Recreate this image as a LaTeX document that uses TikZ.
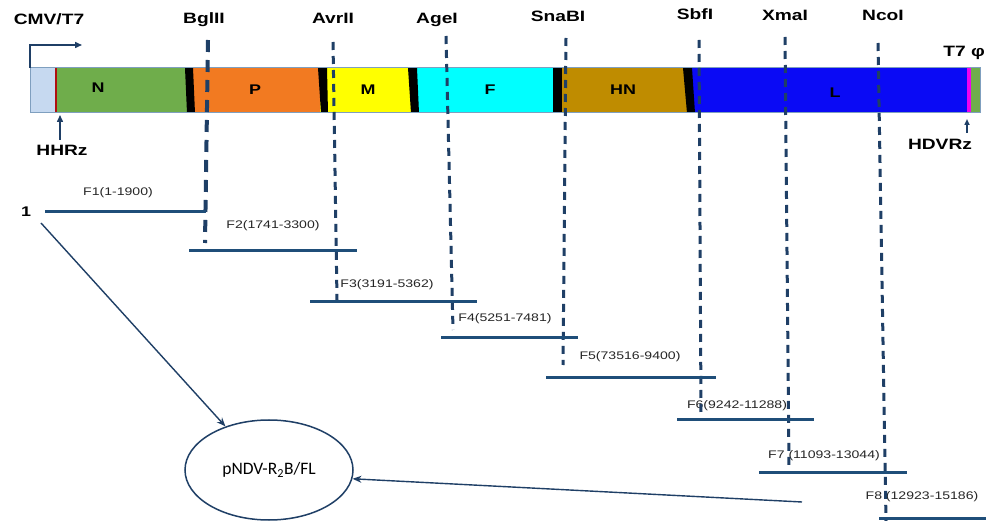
\documentclass[tikz,border=0pt]{standalone}
\usepackage{fontspec}
\setmainfont{Liberation Sans}
\newfontfamily\calibfont{Carlito}
\usetikzlibrary{arrows.meta,shapes.geometric}
\definecolor{navy}{HTML}{1F3F66}
\definecolor{lineblue}{HTML}{1F4E79}
\definecolor{lightbl}{HTML}{C6D9F0}
\definecolor{ngreen}{HTML}{6FAD4B}
\definecolor{porange}{HTML}{F27A21}
\definecolor{myellow}{HTML}{FFFF00}
\definecolor{fcyan}{HTML}{00FFFF}
\definecolor{hngold}{HTML}{BF8C00}
\definecolor{lblue}{HTML}{0A0AF5}
\definecolor{hdvmag}{HTML}{F000F0}
\definecolor{endgreen}{HTML}{6FAD4B}
\definecolor{rzred}{HTML}{B01010}
\definecolor{outline}{HTML}{7F9FBF}
\newcommand\stretchtxt[1]{\scalebox{1.28}[1]{#1}}
\begin{document}
\begin{tikzpicture}[x=1pt,y=-1pt,
  toplab/.style={inner sep=0pt, font=\bfseries\fontsize{15}{18}\selectfont},
  genelab/.style={inner sep=0pt, font=\bfseries\fontsize{14}{16}\selectfont},
  fraglab/.style={inner sep=0pt, font=\fontsize{11}{13}\selectfont, text=black!85},
  cutline/.style={navy, line width=3pt, dash pattern=on 8pt off 6pt},
  cutthick/.style={navy, line width=4pt, dash pattern=on 12pt off 8pt},
  fragline/.style={lineblue, line width=3pt},
  thinarrow/.style={navy, line width=1.4pt, -{Stealth[length=9pt,width=7pt]}},
  smallarrow/.style={navy, line width=1.5pt, -{Triangle[length=7pt,width=6pt]}},
  sep/.style={fill=black}]
\useasboundingbox (0,0) rectangle (986,521);
\fill[white] (0,0) rectangle (986,521);

% ---- genome bar ----
\fill[lightbl] (30,68) rectangle (56,113);
\fill[ngreen] (56,68) rectangle (188,113);
\fill[porange] (188,68) rectangle (320,113);
\fill[myellow] (320,68) rectangle (412,113);
\fill[fcyan] (412,68) rectangle (556,113);
\fill[hngold] (556,68) rectangle (688,113);
\fill[lblue] (688,68) rectangle (967,113);
\fill[hdvmag] (967,68) rectangle (971,113);
\fill[endgreen] (971,68) rectangle (980,113);
\fill[rzred] (54.5,68) rectangle (57,113);
\fill[sep] (185,68) -- (193,68) -- (195,113) -- (187,113) -- cycle;
\fill[sep] (318,68) -- (327,68) -- (328,113) -- (321,113) -- cycle;
\fill[sep] (408,68) -- (417,68) -- (419,113) -- (411,113) -- cycle;
\fill[sep] (553,68) -- (562,68) -- (562,113) -- (553,113) -- cycle;
\fill[sep] (683,68) -- (692,68) -- (695,113) -- (687,113) -- cycle;
\draw[outline, line width=1pt] (30,68) rectangle (980,113);

% gene letters
\node[genelab] (gN) at (98,88) {\stretchtxt{N}};
\node[genelab] (gP) at (255,90) {\stretchtxt{P}};
\node[genelab] (gM) at (368,90) {\stretchtxt{M}};
\node[genelab] (gF) at (490,90) {\stretchtxt{F}};
\node[genelab] (gHN) at (623,90) {\stretchtxt{HN}};
\node[genelab] (gL) at (835,93) {\stretchtxt{L}};

% ---- top labels ----
\node[toplab] (lCMV) at (49,19) {\stretchtxt{CMV/T7}};
\node[toplab] (lBgl) at (204,20) {\stretchtxt{BglII}};
\node[toplab] (lAvr) at (333,18) {\stretchtxt{AvrII}};
\node[toplab] (lAge) at (437,20) {\stretchtxt{AgeI}};
\node[toplab] (lSna) at (558,16) {\stretchtxt{SnaBI}};
\node[toplab] (lSbf) at (695,14) {\stretchtxt{SbfI}};
\node[toplab] (lXma) at (785,15) {\stretchtxt{XmaI}};
\node[toplab] (lNco) at (883,15) {\stretchtxt{NcoI}};
\node[toplab, anchor=east] (lT7) at (985,53) {\stretchtxt{T7 φ}};
\node[toplab] (lHHR) at (62,150) {\stretchtxt{HHRz}};
\node[toplab] (lHDV) at (940,144) {\stretchtxt{HDVRz}};

% promoter and ribozyme arrows
\coordinate (promA) at (30,68);
\coordinate (promB) at (82,45);
\draw[smallarrow] (promA) |- (promB);
\coordinate (hhA) at (60,140);
\coordinate (hhB) at (60,115);
\draw[smallarrow] (hhA) -- (hhB);
\coordinate (hdA) at (967,133);
\coordinate (hdB) at (967,119);
\draw[navy, line width=1.5pt, -{Triangle[length=6pt,width=5pt]}] (hdA) -- (hdB);

% ---- fragment labels ----
\node[fraglab] (tF1) at (118,193) {\stretchtxt{F1(1-1900)}};
\node[fraglab] (tF2) at (273,226) {\stretchtxt{F2(1741-3300)}};
\node[fraglab] (tF3) at (387,285) {\stretchtxt{F3(3191-5362)}};
\node[fraglab] (tF4) at (505,319) {\stretchtxt{F4(5251-7481)}};
\node[fraglab] (tF5) at (630,357) {\stretchtxt{F5(73516-9400)}};
\node[fraglab] (tF6) at (737,406) {\stretchtxt{F6(9242-11288)}};
\node[fraglab] (tF7) at (824,456) {\stretchtxt{F7 (11093-13044)}};
\node[fraglab] (tF8) at (922,497) {\stretchtxt{F8 (12923-15186)}};

% ---- restriction site dashed lines ----
\coordinate (bgT) at (208,40);  \coordinate (bgB) at (205,243);
\coordinate (avT) at (333,42);  \coordinate (avB) at (337,300);
\coordinate (agT) at (446,36);  \coordinate (agB) at (453,330);
\coordinate (snT) at (566,38);  \coordinate (snB) at (563,365);
\coordinate (sbT) at (699,40);  \coordinate (sbB) at (701,413);
\coordinate (xmT) at (785,37);  \coordinate (xmB) at (789,467);
\coordinate (ncT) at (878,43);  \coordinate (ncB) at (886,521);
\draw[cutthick] (bgT) -- (bgB);
\draw[cutline] (avT) -- (avB);
\draw[cutline] (agT) -- (agB);
\draw[cutline] (snT) -- (snB);
\draw[cutline] (sbT) -- (sbB);
\draw[cutline] (xmT) -- (xmB);
\draw[cutline] (ncT) -- (ncB);

% ---- fragment lines ----
\node[inner sep=0pt, font=\bfseries\fontsize{14}{16}\selectfont] (one) at (26,212) {\stretchtxt{1}};
\coordinate (f1a) at (45,212);  \coordinate (f1b) at (206,212);
\coordinate (f2a) at (189,251); \coordinate (f2b) at (357,251);
\coordinate (f3a) at (310,302); \coordinate (f3b) at (477,302);
\coordinate (f4a) at (441,338); \coordinate (f4b) at (578,338);
\coordinate (f5a) at (546,378); \coordinate (f5b) at (716,378);
\coordinate (f6a) at (677,420); \coordinate (f6b) at (814,420);
\coordinate (f7a) at (759,472); \coordinate (f7b) at (907,472);
\coordinate (f8a) at (879,518); \coordinate (f8b) at (986,518);
\foreach \i in {1,...,8} {\draw[fragline] (f\i a) -- (f\i b);}

% ---- assembled plasmid ----
\node[draw=navy, line width=1.5pt, ellipse, minimum width=168pt, minimum height=100pt, inner sep=0pt,
      font=\calibfont\fontsize{17.5}{21}\selectfont] (vec) at (269,470) {pNDV-R\textsubscript{2}B/FL};
\coordinate (arrA) at (41,223);
\coordinate (arrB) at (802,502);
\draw[thinarrow] (arrA) -- (vec.135);
\draw[thinarrow] (arrB) -- (vec.-6);
\end{tikzpicture}
\end{document}
